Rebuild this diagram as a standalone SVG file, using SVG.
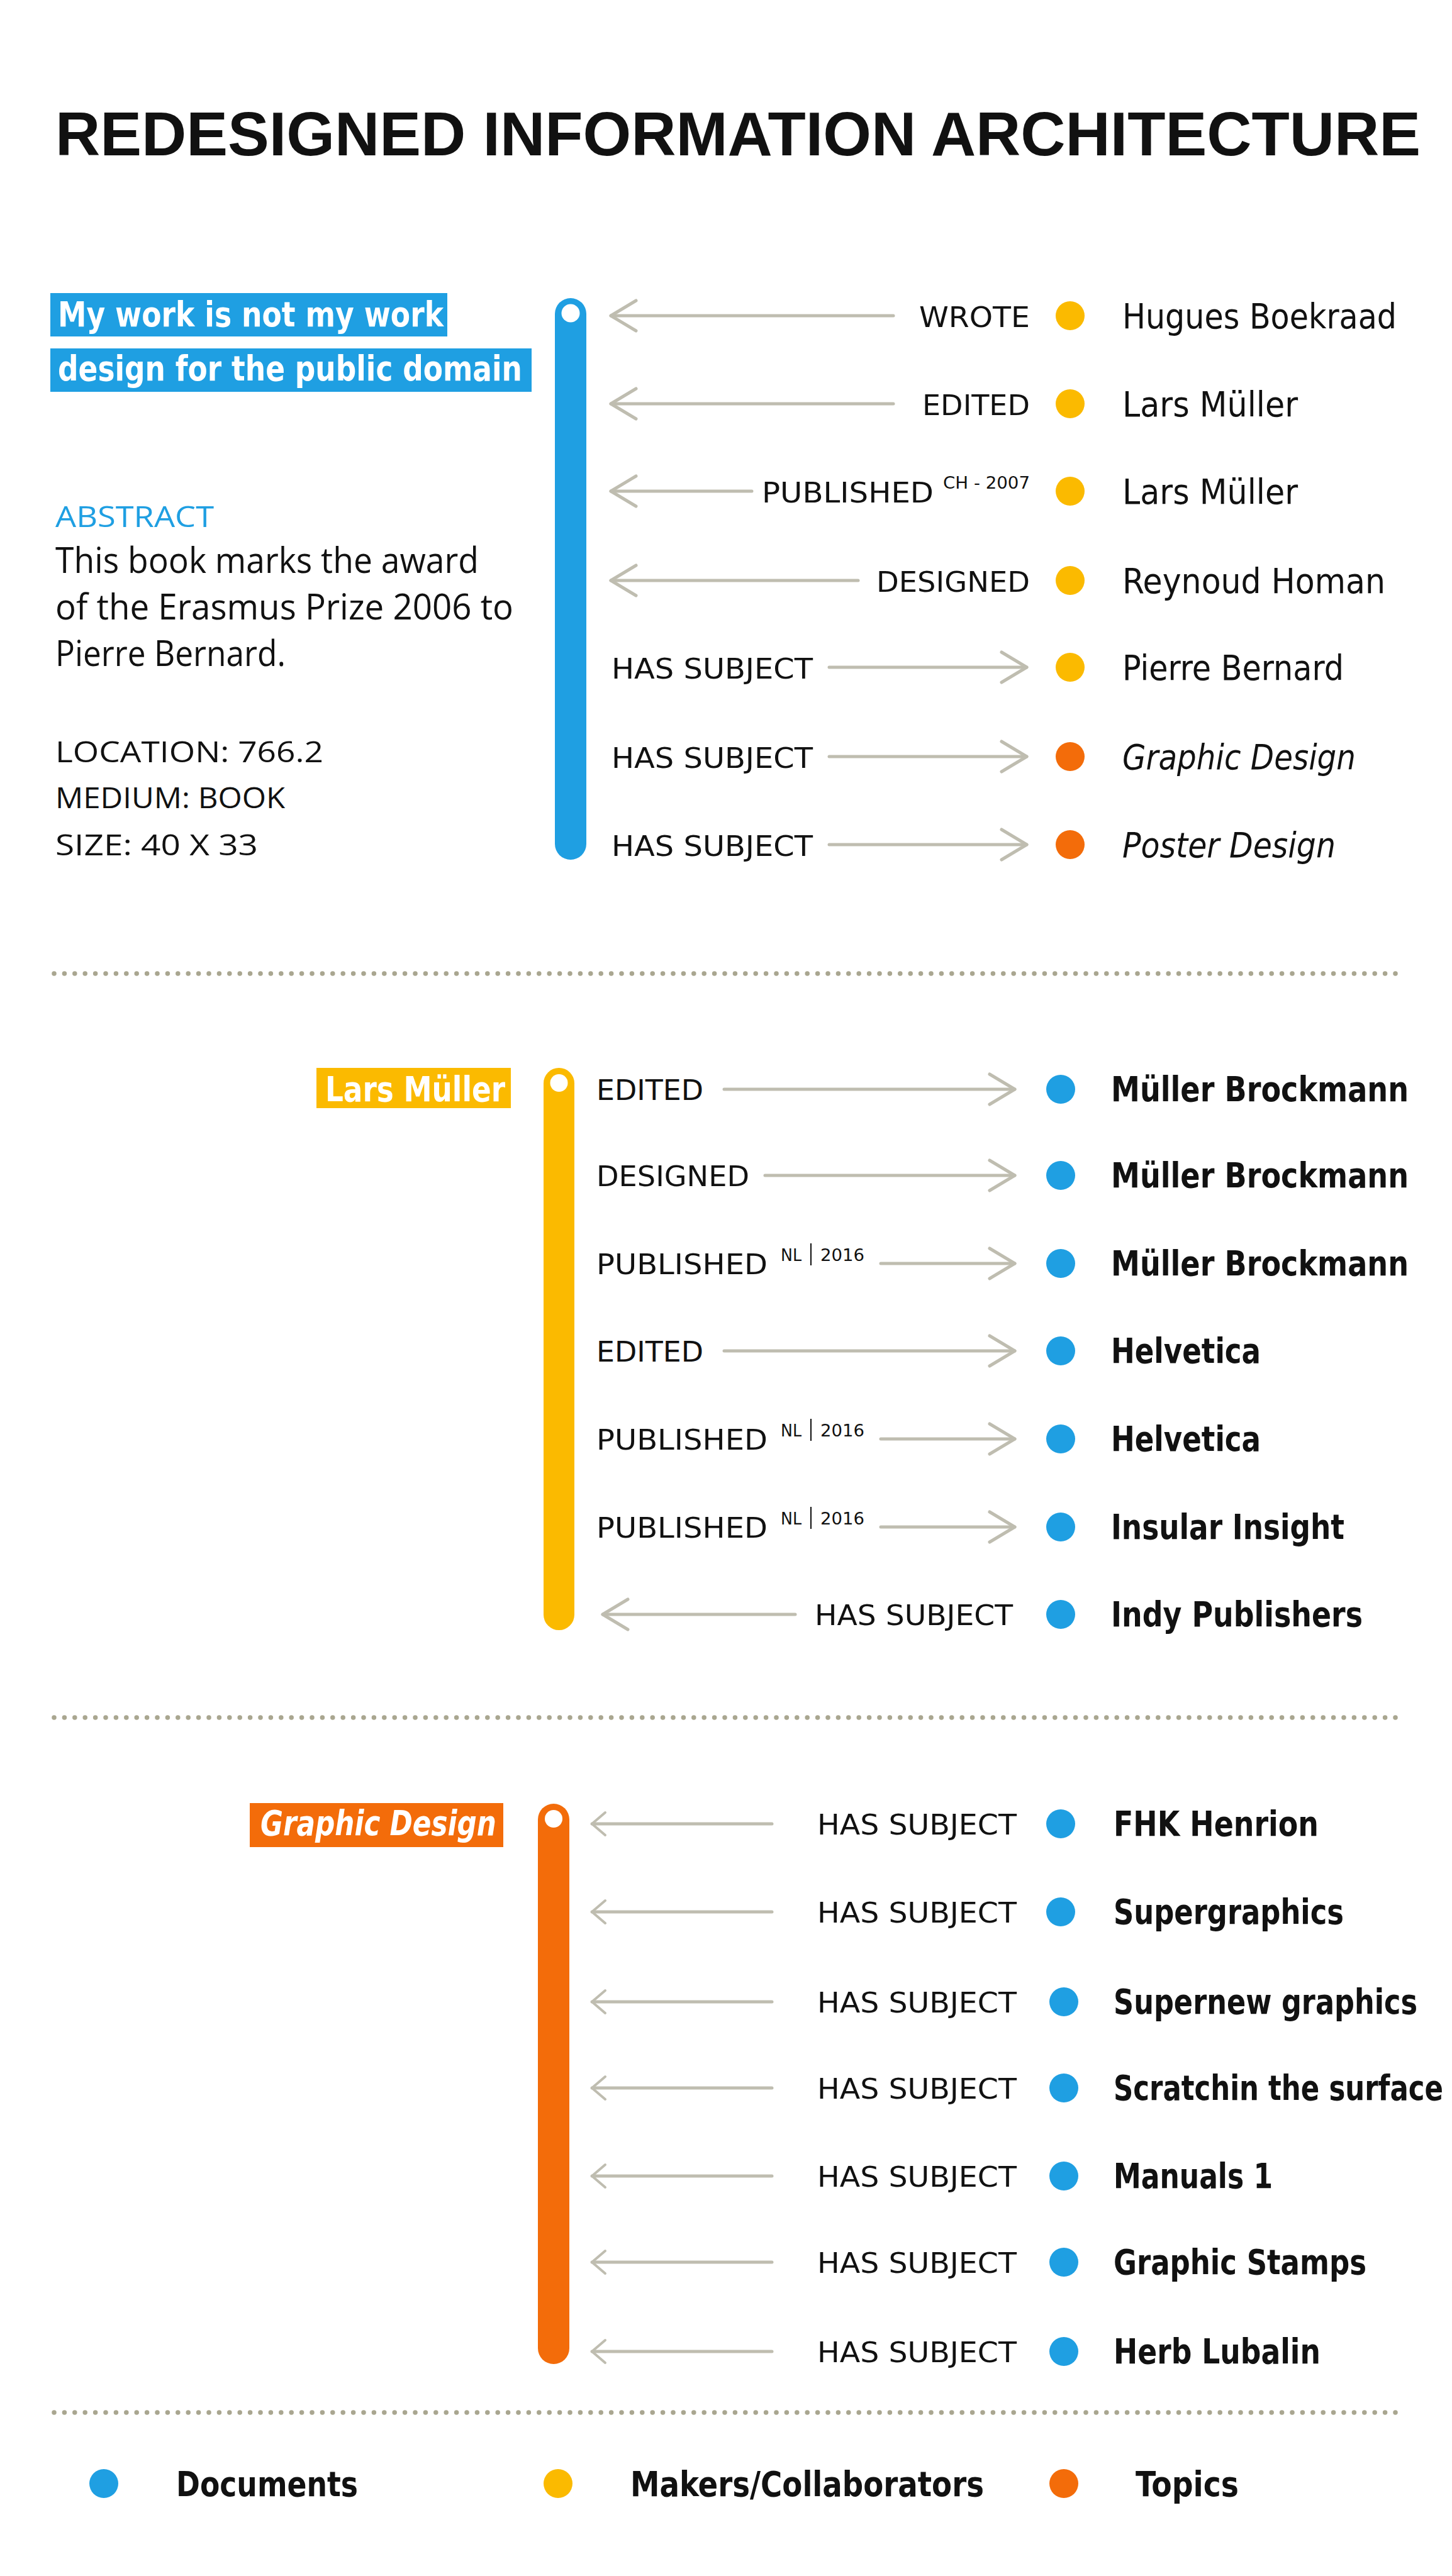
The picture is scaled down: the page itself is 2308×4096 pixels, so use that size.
<svg xmlns="http://www.w3.org/2000/svg" width="2308" height="4096" viewBox="0 0 2308 4096">
<style>
text{fill:#111;}
.title{font-family:"Liberation Sans",Arial,sans-serif;font-weight:bold;font-size:98px;}
.hdr{font-family:"DejaVu Sans Condensed","DejaVu Sans",sans-serif;font-weight:bold;font-size:56px;fill:#fff;}
.hdri{font-family:"DejaVu Sans Condensed","DejaVu Sans",sans-serif;font-weight:bold;font-style:italic;font-size:55px;fill:#fff;}
.caps{font-family:"Open Sans",sans-serif;font-size:45px;}
.body{font-family:"Open Sans",sans-serif;font-size:57px;}
.lbl{font-family:"DejaVu Sans Condensed","DejaVu Sans",sans-serif;font-size:45px;}
.sup{font-family:"DejaVu Sans Condensed","DejaVu Sans",sans-serif;font-size:26px;}
.name{font-family:"DejaVu Sans Condensed","DejaVu Sans",sans-serif;font-size:55px;}
.namei{font-family:"DejaVu Sans Condensed","DejaVu Sans",sans-serif;font-size:55px;font-style:italic;}
.nameb{font-family:"DejaVu Sans Condensed","DejaVu Sans",sans-serif;font-size:55px;font-weight:bold;}
.conn{fill:none;stroke:#BFBDB0;stroke-width:5;stroke-linecap:round;}
.big{marker-end:url(#ah);}
.small{marker-end:url(#as);}
.dots{fill:none;stroke:#A9A690;stroke-width:7.5;stroke-linecap:round;stroke-dasharray:0 16.4;}
.blue{fill:#1F9FE2;}
.yel{fill:#FBBA00;}
.ora{fill:#F36C0A;}
.hole{fill:#fff;}
</style>
<defs>
<marker id="ah" markerUnits="userSpaceOnUse" markerWidth="60" markerHeight="60" viewBox="-50 -30 60 60" refX="0" refY="0" orient="auto" overflow="visible">
<path d="M-40,-24 L0,0 L-40,24" fill="none" stroke="#BFBDB0" stroke-width="5" stroke-linecap="round" stroke-linejoin="round"/>
</marker>
<marker id="as" markerUnits="userSpaceOnUse" markerWidth="40" markerHeight="40" viewBox="-30 -20 40 40" refX="0" refY="0" orient="auto" overflow="visible">
<path d="M-21,-18 L0,0 L-21,18" fill="none" stroke="#BFBDB0" stroke-width="4" stroke-linecap="round" stroke-linejoin="round"/>
</marker>
</defs>
<rect width="2308" height="4096" fill="#fff"/>

<text class="title" x="88" y="247" textLength="2170" lengthAdjust="spacingAndGlyphs">REDESIGNED INFORMATION ARCHITECTURE</text>

<!-- Section 1 -->
<g id="book">
<rect class="blue" x="80" y="466" width="631" height="69"/>
<text class="hdr" x="92" y="519" textLength="613" lengthAdjust="spacingAndGlyphs">My work is not my work</text>
<rect class="blue" x="80" y="554" width="765" height="69"/>
<text class="hdr" x="92" y="605" textLength="738" lengthAdjust="spacingAndGlyphs">design for the public domain</text>
<text class="caps" x="88" y="838" textLength="252" lengthAdjust="spacingAndGlyphs" style="fill:#1F9FE2">ABSTRACT</text>
<text class="body" x="88" y="911" textLength="673" lengthAdjust="spacingAndGlyphs">This book marks the award</text>
<text class="body" x="88" y="985" textLength="728" lengthAdjust="spacingAndGlyphs">of the Erasmus Prize 2006 to</text>
<text class="body" x="88" y="1059" textLength="366" lengthAdjust="spacingAndGlyphs">Pierre Bernard.</text>
<text class="caps" x="88" y="1212" textLength="426" lengthAdjust="spacingAndGlyphs">LOCATION: 766.2</text>
<text class="caps" x="88" y="1285" textLength="365" lengthAdjust="spacingAndGlyphs">MEDIUM: BOOK</text>
<text class="caps" x="88" y="1360" textLength="322" lengthAdjust="spacingAndGlyphs">SIZE: 40 X 33</text>
<rect class="blue" x="882" y="474" width="50" height="893" rx="25"/>
<circle class="hole" cx="907" cy="498" r="14.5"/>
</g>

<g id="s1-nodes">
<g id="n-hugues"><circle class="yel" cx="1701" cy="502" r="23"/><text class="name" x="1784" y="522" textLength="436" lengthAdjust="spacingAndGlyphs">Hugues Boekraad</text></g>
<g id="n-lars1"><circle class="yel" cx="1701" cy="642" r="23"/><text class="name" x="1784" y="662" textLength="279" lengthAdjust="spacingAndGlyphs">Lars Müller</text></g>
<g id="n-lars2"><circle class="yel" cx="1701" cy="781" r="23"/><text class="name" x="1784" y="801" textLength="279" lengthAdjust="spacingAndGlyphs">Lars Müller</text></g>
<g id="n-reynoud"><circle class="yel" cx="1701" cy="923" r="23"/><text class="name" x="1784" y="943" textLength="418" lengthAdjust="spacingAndGlyphs">Reynoud Homan</text></g>
<g id="n-pierre"><circle class="yel" cx="1701" cy="1061" r="23"/><text class="name" x="1784" y="1081" textLength="352" lengthAdjust="spacingAndGlyphs">Pierre Bernard</text></g>
<g id="n-graphic"><circle class="ora" cx="1701" cy="1203" r="23"/><text class="namei" x="1784" y="1223" textLength="371" lengthAdjust="spacingAndGlyphs">Graphic Design</text></g>
<g id="n-poster"><circle class="ora" cx="1701" cy="1343" r="23"/><text class="namei" x="1784" y="1363" textLength="339" lengthAdjust="spacingAndGlyphs">Poster Design</text></g>
</g>

<g id="s1-connectors">
<path class="conn big" d="M1420,502 H971"/>
<text class="lbl" x="1461" y="520" textLength="176" lengthAdjust="spacingAndGlyphs">WROTE</text>
<path class="conn big" d="M1420,642 H971"/>
<text class="lbl" x="1466" y="660" textLength="171" lengthAdjust="spacingAndGlyphs">EDITED</text>
<path class="conn big" d="M1195,781 H971"/>
<text class="lbl" x="1211" y="799" textLength="273" lengthAdjust="spacingAndGlyphs">PUBLISHED</text>
<text class="sup" x="1499" y="777" textLength="138" lengthAdjust="spacingAndGlyphs">CH - 2007</text>
<path class="conn big" d="M1364,923 H971"/>
<text class="lbl" x="1393" y="941" textLength="244" lengthAdjust="spacingAndGlyphs">DESIGNED</text>
<text class="lbl" x="972" y="1079" textLength="320" lengthAdjust="spacingAndGlyphs">HAS SUBJECT</text>
<path class="conn big" d="M1318,1061 H1632"/>
<text class="lbl" x="972" y="1221" textLength="320" lengthAdjust="spacingAndGlyphs">HAS SUBJECT</text>
<path class="conn big" d="M1318,1203 H1632"/>
<text class="lbl" x="972" y="1361" textLength="320" lengthAdjust="spacingAndGlyphs">HAS SUBJECT</text>
<path class="conn big" d="M1318,1343 H1632"/>
</g>

<path class="dots" d="M86,1548 H2225"/>

<!-- Section 2 -->
<g id="lars">
<rect class="yel" x="503" y="1698" width="309" height="64"/>
<text class="hdr" x="517" y="1751" textLength="286" lengthAdjust="spacingAndGlyphs">Lars Müller</text>
<rect class="yel" x="864" y="1698" width="49" height="894" rx="24.5"/>
<circle class="hole" cx="888.5" cy="1722" r="14"/>
</g>

<g id="s2-nodes">
<g id="n-mb1"><circle class="blue" cx="1686" cy="1732" r="23"/><text class="nameb" x="1766" y="1751" textLength="473" lengthAdjust="spacingAndGlyphs">Müller Brockmann</text></g>
<g id="n-mb2"><circle class="blue" cx="1686" cy="1869" r="23"/><text class="nameb" x="1766" y="1888" textLength="473" lengthAdjust="spacingAndGlyphs">Müller Brockmann</text></g>
<g id="n-mb3"><circle class="blue" cx="1686" cy="2009" r="23"/><text class="nameb" x="1766" y="2028" textLength="473" lengthAdjust="spacingAndGlyphs">Müller Brockmann</text></g>
<g id="n-helv1"><circle class="blue" cx="1686" cy="2148" r="23"/><text class="nameb" x="1766" y="2167" textLength="238" lengthAdjust="spacingAndGlyphs">Helvetica</text></g>
<g id="n-helv2"><circle class="blue" cx="1686" cy="2288" r="23"/><text class="nameb" x="1766" y="2307" textLength="238" lengthAdjust="spacingAndGlyphs">Helvetica</text></g>
<g id="n-insular"><circle class="blue" cx="1686" cy="2428" r="23"/><text class="nameb" x="1766" y="2447" textLength="371" lengthAdjust="spacingAndGlyphs">Insular Insight</text></g>
<g id="n-indy"><circle class="blue" cx="1686" cy="2567" r="23"/><text class="nameb" x="1766" y="2586" textLength="400" lengthAdjust="spacingAndGlyphs">Indy Publishers</text></g>
</g>

<g id="s2-connectors">
<text class="lbl" x="948" y="1749" textLength="170" lengthAdjust="spacingAndGlyphs">EDITED</text>
<path class="conn big" d="M1151,1732 H1613"/>
<text class="lbl" x="948" y="1886" textLength="243" lengthAdjust="spacingAndGlyphs">DESIGNED</text>
<path class="conn big" d="M1216,1869 H1613"/>
<text class="lbl" x="948" y="2026" textLength="272" lengthAdjust="spacingAndGlyphs">PUBLISHED</text>
<text class="sup" x="1241" y="2005" textLength="33" lengthAdjust="spacingAndGlyphs">NL</text>
<path d="M1289,1977 V2012" stroke="#111" stroke-width="2"/>
<text class="sup" x="1304" y="2005" textLength="70" lengthAdjust="spacingAndGlyphs">2016</text>
<path class="conn big" d="M1400,2009 H1613"/>
<text class="lbl" x="948" y="2165" textLength="170" lengthAdjust="spacingAndGlyphs">EDITED</text>
<path class="conn big" d="M1151,2148 H1613"/>
<text class="lbl" x="948" y="2305" textLength="272" lengthAdjust="spacingAndGlyphs">PUBLISHED</text>
<text class="sup" x="1241" y="2284" textLength="33" lengthAdjust="spacingAndGlyphs">NL</text>
<path d="M1289,2256 V2291" stroke="#111" stroke-width="2"/>
<text class="sup" x="1304" y="2284" textLength="70" lengthAdjust="spacingAndGlyphs">2016</text>
<path class="conn big" d="M1400,2288 H1613"/>
<text class="lbl" x="948" y="2445" textLength="272" lengthAdjust="spacingAndGlyphs">PUBLISHED</text>
<text class="sup" x="1241" y="2424" textLength="33" lengthAdjust="spacingAndGlyphs">NL</text>
<path d="M1289,2396 V2431" stroke="#111" stroke-width="2"/>
<text class="sup" x="1304" y="2424" textLength="70" lengthAdjust="spacingAndGlyphs">2016</text>
<path class="conn big" d="M1400,2428 H1613"/>
<path class="conn big" d="M1264,2567 H958"/>
<text class="lbl" x="1295" y="2584" textLength="315" lengthAdjust="spacingAndGlyphs">HAS SUBJECT</text>
</g>

<path class="dots" d="M86,2731 H2225"/>

<!-- Section 3 -->
<g id="graphic-design">
<rect class="ora" x="397" y="2867" width="403" height="70"/>
<text class="hdri" x="414" y="2918" textLength="375" lengthAdjust="spacingAndGlyphs">Graphic Design</text>
<rect class="ora" x="855" y="2868" width="50" height="891" rx="25"/>
<circle class="hole" cx="880" cy="2892" r="14"/>
</g>

<g id="s3-nodes">
<g id="n-fhk"><circle class="blue" cx="1686" cy="2900" r="23"/><text class="nameb" x="1770" y="2919" textLength="326" lengthAdjust="spacingAndGlyphs">FHK Henrion</text></g>
<g id="n-super"><circle class="blue" cx="1686" cy="3040" r="23"/><text class="nameb" x="1770" y="3059" textLength="366" lengthAdjust="spacingAndGlyphs">Supergraphics</text></g>
<g id="n-supernew"><circle class="blue" cx="1691" cy="3183" r="23"/><text class="nameb" x="1770" y="3202" textLength="483" lengthAdjust="spacingAndGlyphs">Supernew graphics</text></g>
<g id="n-scratch"><circle class="blue" cx="1691" cy="3320" r="23"/><text class="nameb" transform="translate(1770,3339) scale(0.8,1)" x="0" y="0" textLength="655" lengthAdjust="spacingAndGlyphs">Scratchin the surface</text></g>
<g id="n-manuals"><circle class="blue" cx="1691" cy="3460" r="23"/><text class="nameb" x="1770" y="3479" textLength="253" lengthAdjust="spacingAndGlyphs">Manuals 1</text></g>
<g id="n-stamps"><circle class="blue" cx="1691" cy="3597" r="23"/><text class="nameb" x="1770" y="3616" textLength="402" lengthAdjust="spacingAndGlyphs">Graphic Stamps</text></g>
<g id="n-herb"><circle class="blue" cx="1691" cy="3739" r="23"/><text class="nameb" x="1770" y="3758" textLength="329" lengthAdjust="spacingAndGlyphs">Herb Lubalin</text></g>
</g>

<g id="s3-connectors">
<path class="conn small" d="M1227,2900 H941"/>
<text class="lbl" x="1299" y="2917" textLength="317" lengthAdjust="spacingAndGlyphs">HAS SUBJECT</text>
<path class="conn small" d="M1227,3040 H941"/>
<text class="lbl" x="1299" y="3057" textLength="317" lengthAdjust="spacingAndGlyphs">HAS SUBJECT</text>
<path class="conn small" d="M1227,3183 H941"/>
<text class="lbl" x="1299" y="3200" textLength="317" lengthAdjust="spacingAndGlyphs">HAS SUBJECT</text>
<path class="conn small" d="M1227,3320 H941"/>
<text class="lbl" x="1299" y="3337" textLength="317" lengthAdjust="spacingAndGlyphs">HAS SUBJECT</text>
<path class="conn small" d="M1227,3460 H941"/>
<text class="lbl" x="1299" y="3477" textLength="317" lengthAdjust="spacingAndGlyphs">HAS SUBJECT</text>
<path class="conn small" d="M1227,3597 H941"/>
<text class="lbl" x="1299" y="3614" textLength="317" lengthAdjust="spacingAndGlyphs">HAS SUBJECT</text>
<path class="conn small" d="M1227,3739 H941"/>
<text class="lbl" x="1299" y="3756" textLength="317" lengthAdjust="spacingAndGlyphs">HAS SUBJECT</text>
</g>

<path class="dots" d="M86,3836 H2225"/>

<!-- Legend -->
<g id="legend">
<circle class="blue" cx="165" cy="3949" r="23"/>
<text class="nameb" x="280" y="3969" textLength="289" lengthAdjust="spacingAndGlyphs">Documents</text>
<circle class="yel" cx="887" cy="3949" r="23"/>
<text class="nameb" x="1002" y="3969" textLength="562" lengthAdjust="spacingAndGlyphs">Makers/Collaborators</text>
<circle class="ora" cx="1691" cy="3949" r="23"/>
<text class="nameb" x="1805" y="3969" textLength="164" lengthAdjust="spacingAndGlyphs">Topics</text>
</g>
</svg>
